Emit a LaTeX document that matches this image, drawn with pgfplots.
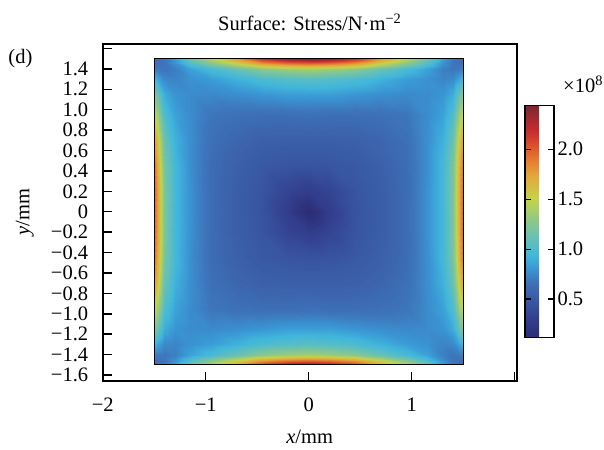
\documentclass[border=0pt]{standalone}
\usepackage{fontspec}
\setmainfont{Liberation Serif}
\usepackage{pgfplots}
\pgfplotsset{compat=1.18}

% stress colour scale, evenly spaced from 0.113e8 to 2.436e8 N/m^2
\pgfplotsset{
  colormap={stress}{
    rgb255(0cm)=(44,44,115) rgb255(1cm)=(48,55,132) rgb255(2cm)=(52,68,147)
    rgb255(3cm)=(56,85,161) rgb255(4cm)=(60,100,173) rgb255(5cm)=(61,120,188)
    rgb255(6cm)=(58,151,212) rgb255(7cm)=(64,182,220) rgb255(8cm)=(88,189,196)
    rgb255(9cm)=(112,194,170) rgb255(10cm)=(139,199,138) rgb255(11cm)=(168,206,104)
    rgb255(12cm)=(197,211,72) rgb255(13cm)=(213,188,65) rgb255(14cm)=(229,166,59)
    rgb255(15cm)=(228,134,52) rgb255(16cm)=(226,99,44) rgb255(17cm)=(213,67,45)
    rgb255(18cm)=(195,42,47) rgb255(19cm)=(158,41,50) rgb255(20cm)=(122,40,52)
  }
}

\begin{document}
\begin{tikzpicture}[font=\fontsize{20.5}{24}\selectfont]
\begin{axis}[
  name=main,
  scale only axis, width=414pt, height=336.7pt,
  xmin=-2, xmax=2.02, ymin=-1.656, ymax=1.644,
  clip=false,
  colormap name=stress, point meta min=0.113, point meta max=2.436,
  axis line style={line width=2pt},
  tick style={black, line width=1.5pt}, major tick length=9pt,
  tick align=inside, tick pos=left,
  xtick={-2,-1,0,1,2}, xticklabels={−2,−1,0,1,{}},
  ytick={-1.6,-1.4,-1.2,-1.0,-0.8,-0.6,-0.4,-0.2,0,0.2,0.4,0.6,0.8,1.0,1.2,1.4,1.6},
  yticklabels={−1.6,−1.4,−1.2,−1.0,−0.8,−0.6,−0.4,−0.2,0,0.2,0.4,0.6,0.8,1.0,1.2,1.4,{}},
  xticklabel style={anchor=base, yshift=-31pt},
  yticklabel style={anchor=east, xshift=-11pt},
  every axis x label/.style={at={(axis description cs:0.5,0)}, anchor=base, yshift=-63pt},
  every axis y label/.style={at={(axis description cs:-0.188,0.5)}, rotate=90, anchor=center},
  every axis title/.style={at={(0.5,1)}, anchor=base, yshift=13pt},
  xlabel={\textit{x}/mm}, ylabel={\textit{y}/mm},
  title={Surface: Stress/N·m\textsuperscript{−2}},
  colorbar,
  colorbar style={
    at={(1.02,0.1277)}, anchor=south west,
    scale only axis, width=29pt, height=232pt,
    ytick={0.5,1,1.5,2}, yticklabels={0.5,1.0,1.5,2.0},
    ytick pos=both, yticklabel pos=right,
    tick align=inside, major tick length=6pt,
    tick style={black, line width=1.2pt},
    axis line style={line width=1.3pt},
    after end axis/.code={\draw[line width=1.3pt] (rel axis cs:0,0) rectangle (rel axis cs:1,1);},
  },
]
\addplot[surf, shader=interp, mesh/cols=19, point meta=\thisrow{z}] table[row sep=\\] {
x y z\\
-1.5 -1.5 0.63\\ -1.46 -1.5 0.64\\ -1.4 -1.5 0.68\\ -1.3 -1.5 0.83\\ -1.15 -1.5 1.14\\ -0.95 -1.5 1.43\\ -0.7 -1.5 1.78\\ -0.45 -1.5 2.16\\ -0.2 -1.5 2.36\\ 0 -1.5 2.436\\ 0.2 -1.5 2.36\\ 0.45 -1.5 2.16\\ 0.7 -1.5 1.78\\ 0.95 -1.5 1.43\\ 1.15 -1.5 1.14\\ 1.3 -1.5 0.83\\ 1.4 -1.5 0.68\\ 1.46 -1.5 0.64\\ 1.5 -1.5 0.63\\
-1.5 -1.46 0.65\\ -1.46 -1.46 0.66\\ -1.4 -1.46 0.68\\ -1.3 -1.46 0.79\\ -1.15 -1.46 1.03\\ -0.95 -1.46 1.27\\ -0.7 -1.46 1.54\\ -0.45 -1.46 1.82\\ -0.2 -1.46 1.96\\ 0 -1.46 2.00\\ 0.2 -1.46 1.96\\ 0.45 -1.46 1.82\\ 0.7 -1.46 1.54\\ 0.95 -1.46 1.27\\ 1.15 -1.46 1.03\\ 1.3 -1.46 0.79\\ 1.4 -1.46 0.68\\ 1.46 -1.46 0.66\\ 1.5 -1.46 0.65\\
-1.5 -1.4 0.72\\ -1.46 -1.4 0.70\\ -1.4 -1.4 0.68\\ -1.3 -1.4 0.72\\ -1.15 -1.4 0.85\\ -0.95 -1.4 0.97\\ -0.7 -1.4 1.12\\ -0.45 -1.4 1.28\\ -0.2 -1.4 1.35\\ 0 -1.4 1.38\\ 0.2 -1.4 1.35\\ 0.45 -1.4 1.28\\ 0.7 -1.4 1.12\\ 0.95 -1.4 0.97\\ 1.15 -1.4 0.85\\ 1.3 -1.4 0.72\\ 1.4 -1.4 0.68\\ 1.46 -1.4 0.70\\ 1.5 -1.4 0.72\\
-1.5 -1.3 0.93\\ -1.46 -1.3 0.86\\ -1.4 -1.3 0.76\\ -1.3 -1.3 0.74\\ -1.15 -1.3 0.79\\ -0.95 -1.3 0.83\\ -0.7 -1.3 0.91\\ -0.45 -1.3 0.99\\ -0.2 -1.3 1.03\\ 0 -1.3 1.05\\ 0.2 -1.3 1.03\\ 0.45 -1.3 0.99\\ 0.7 -1.3 0.91\\ 0.95 -1.3 0.83\\ 1.15 -1.3 0.79\\ 1.3 -1.3 0.74\\ 1.4 -1.3 0.76\\ 1.46 -1.3 0.86\\ 1.5 -1.3 0.93\\
-1.5 -1.15 1.24\\ -1.46 -1.15 1.11\\ -1.4 -1.15 0.89\\ -1.3 -1.15 0.80\\ -1.15 -1.15 0.77\\ -0.95 -1.15 0.76\\ -0.7 -1.15 0.78\\ -0.45 -1.15 0.81\\ -0.2 -1.15 0.84\\ 0 -1.15 0.84\\ 0.2 -1.15 0.84\\ 0.45 -1.15 0.81\\ 0.7 -1.15 0.78\\ 0.95 -1.15 0.76\\ 1.15 -1.15 0.77\\ 1.3 -1.15 0.80\\ 1.4 -1.15 0.89\\ 1.46 -1.15 1.11\\ 1.5 -1.15 1.24\\
-1.5 -0.95 1.53\\ -1.46 -0.95 1.34\\ -1.4 -0.95 1.01\\ -1.3 -0.95 0.85\\ -1.15 -0.95 0.77\\ -0.95 -0.95 0.68\\ -0.7 -0.95 0.65\\ -0.45 -0.95 0.64\\ -0.2 -0.95 0.64\\ 0 -0.95 0.65\\ 0.2 -0.95 0.64\\ 0.45 -0.95 0.64\\ 0.7 -0.95 0.65\\ 0.95 -0.95 0.68\\ 1.15 -0.95 0.77\\ 1.3 -0.95 0.85\\ 1.4 -0.95 1.01\\ 1.46 -0.95 1.34\\ 1.5 -0.95 1.53\\
-1.5 -0.7 1.80\\ -1.46 -0.7 1.56\\ -1.4 -0.7 1.13\\ -1.3 -0.7 0.91\\ -1.15 -0.7 0.78\\ -0.95 -0.7 0.65\\ -0.7 -0.7 0.59\\ -0.45 -0.7 0.55\\ -0.2 -0.7 0.54\\ 0 -0.7 0.54\\ 0.2 -0.7 0.54\\ 0.45 -0.7 0.55\\ 0.7 -0.7 0.59\\ 0.95 -0.7 0.65\\ 1.15 -0.7 0.78\\ 1.3 -0.7 0.91\\ 1.4 -0.7 1.13\\ 1.46 -0.7 1.56\\ 1.5 -0.7 1.80\\
-1.5 -0.45 1.96\\ -1.46 -0.45 1.68\\ -1.4 -0.45 1.20\\ -1.3 -0.45 0.95\\ -1.15 -0.45 0.78\\ -0.95 -0.45 0.63\\ -0.7 -0.45 0.55\\ -0.45 -0.45 0.49\\ -0.2 -0.45 0.46\\ 0 -0.45 0.45\\ 0.2 -0.45 0.46\\ 0.45 -0.45 0.49\\ 0.7 -0.45 0.55\\ 0.95 -0.45 0.63\\ 1.15 -0.45 0.78\\ 1.3 -0.45 0.95\\ 1.4 -0.45 1.20\\ 1.46 -0.45 1.68\\ 1.5 -0.45 1.96\\
-1.5 -0.2 2.00\\ -1.46 -0.2 1.72\\ -1.4 -0.2 1.22\\ -1.3 -0.2 0.95\\ -1.15 -0.2 0.79\\ -0.95 -0.2 0.63\\ -0.7 -0.2 0.53\\ -0.45 -0.2 0.46\\ -0.2 -0.2 0.34\\ 0 -0.2 0.28\\ 0.2 -0.2 0.34\\ 0.45 -0.2 0.46\\ 0.7 -0.2 0.53\\ 0.95 -0.2 0.63\\ 1.15 -0.2 0.79\\ 1.3 -0.2 0.95\\ 1.4 -0.2 1.22\\ 1.46 -0.2 1.72\\ 1.5 -0.2 2.00\\
-1.5 0 2.00\\ -1.46 0 1.72\\ -1.4 0 1.22\\ -1.3 0 0.95\\ -1.15 0 0.79\\ -0.95 0 0.63\\ -0.7 0 0.53\\ -0.45 0 0.45\\ -0.2 0 0.28\\ 0 0 0.113\\ 0.2 0 0.28\\ 0.45 0 0.45\\ 0.7 0 0.53\\ 0.95 0 0.63\\ 1.15 0 0.79\\ 1.3 0 0.95\\ 1.4 0 1.22\\ 1.46 0 1.72\\ 1.5 0 2.00\\
-1.5 0.2 2.00\\ -1.46 0.2 1.72\\ -1.4 0.2 1.22\\ -1.3 0.2 0.95\\ -1.15 0.2 0.79\\ -0.95 0.2 0.63\\ -0.7 0.2 0.53\\ -0.45 0.2 0.46\\ -0.2 0.2 0.34\\ 0 0.2 0.28\\ 0.2 0.2 0.34\\ 0.45 0.2 0.46\\ 0.7 0.2 0.53\\ 0.95 0.2 0.63\\ 1.15 0.2 0.79\\ 1.3 0.2 0.95\\ 1.4 0.2 1.22\\ 1.46 0.2 1.72\\ 1.5 0.2 2.00\\
-1.5 0.45 1.96\\ -1.46 0.45 1.68\\ -1.4 0.45 1.20\\ -1.3 0.45 0.95\\ -1.15 0.45 0.78\\ -0.95 0.45 0.63\\ -0.7 0.45 0.55\\ -0.45 0.45 0.49\\ -0.2 0.45 0.46\\ 0 0.45 0.45\\ 0.2 0.45 0.46\\ 0.45 0.45 0.49\\ 0.7 0.45 0.55\\ 0.95 0.45 0.63\\ 1.15 0.45 0.78\\ 1.3 0.45 0.95\\ 1.4 0.45 1.20\\ 1.46 0.45 1.68\\ 1.5 0.45 1.96\\
-1.5 0.7 1.80\\ -1.46 0.7 1.56\\ -1.4 0.7 1.13\\ -1.3 0.7 0.91\\ -1.15 0.7 0.78\\ -0.95 0.7 0.65\\ -0.7 0.7 0.59\\ -0.45 0.7 0.55\\ -0.2 0.7 0.54\\ 0 0.7 0.54\\ 0.2 0.7 0.54\\ 0.45 0.7 0.55\\ 0.7 0.7 0.59\\ 0.95 0.7 0.65\\ 1.15 0.7 0.78\\ 1.3 0.7 0.91\\ 1.4 0.7 1.13\\ 1.46 0.7 1.56\\ 1.5 0.7 1.80\\
-1.5 0.95 1.53\\ -1.46 0.95 1.34\\ -1.4 0.95 1.01\\ -1.3 0.95 0.85\\ -1.15 0.95 0.77\\ -0.95 0.95 0.68\\ -0.7 0.95 0.65\\ -0.45 0.95 0.64\\ -0.2 0.95 0.64\\ 0 0.95 0.65\\ 0.2 0.95 0.64\\ 0.45 0.95 0.64\\ 0.7 0.95 0.65\\ 0.95 0.95 0.68\\ 1.15 0.95 0.77\\ 1.3 0.95 0.85\\ 1.4 0.95 1.01\\ 1.46 0.95 1.34\\ 1.5 0.95 1.53\\
-1.5 1.15 1.24\\ -1.46 1.15 1.11\\ -1.4 1.15 0.89\\ -1.3 1.15 0.80\\ -1.15 1.15 0.77\\ -0.95 1.15 0.76\\ -0.7 1.15 0.78\\ -0.45 1.15 0.81\\ -0.2 1.15 0.84\\ 0 1.15 0.84\\ 0.2 1.15 0.84\\ 0.45 1.15 0.81\\ 0.7 1.15 0.78\\ 0.95 1.15 0.76\\ 1.15 1.15 0.77\\ 1.3 1.15 0.80\\ 1.4 1.15 0.89\\ 1.46 1.15 1.11\\ 1.5 1.15 1.24\\
-1.5 1.3 0.93\\ -1.46 1.3 0.86\\ -1.4 1.3 0.76\\ -1.3 1.3 0.74\\ -1.15 1.3 0.79\\ -0.95 1.3 0.83\\ -0.7 1.3 0.91\\ -0.45 1.3 0.99\\ -0.2 1.3 1.03\\ 0 1.3 1.05\\ 0.2 1.3 1.03\\ 0.45 1.3 0.99\\ 0.7 1.3 0.91\\ 0.95 1.3 0.83\\ 1.15 1.3 0.79\\ 1.3 1.3 0.74\\ 1.4 1.3 0.76\\ 1.46 1.3 0.86\\ 1.5 1.3 0.93\\
-1.5 1.4 0.72\\ -1.46 1.4 0.70\\ -1.4 1.4 0.68\\ -1.3 1.4 0.72\\ -1.15 1.4 0.85\\ -0.95 1.4 0.97\\ -0.7 1.4 1.12\\ -0.45 1.4 1.28\\ -0.2 1.4 1.35\\ 0 1.4 1.38\\ 0.2 1.4 1.35\\ 0.45 1.4 1.28\\ 0.7 1.4 1.12\\ 0.95 1.4 0.97\\ 1.15 1.4 0.85\\ 1.3 1.4 0.72\\ 1.4 1.4 0.68\\ 1.46 1.4 0.70\\ 1.5 1.4 0.72\\
-1.5 1.46 0.65\\ -1.46 1.46 0.66\\ -1.4 1.46 0.68\\ -1.3 1.46 0.79\\ -1.15 1.46 1.03\\ -0.95 1.46 1.27\\ -0.7 1.46 1.54\\ -0.45 1.46 1.82\\ -0.2 1.46 1.96\\ 0 1.46 2.00\\ 0.2 1.46 1.96\\ 0.45 1.46 1.82\\ 0.7 1.46 1.54\\ 0.95 1.46 1.27\\ 1.15 1.46 1.03\\ 1.3 1.46 0.79\\ 1.4 1.46 0.68\\ 1.46 1.46 0.66\\ 1.5 1.46 0.65\\
-1.5 1.5 0.63\\ -1.46 1.5 0.64\\ -1.4 1.5 0.68\\ -1.3 1.5 0.83\\ -1.15 1.5 1.14\\ -0.95 1.5 1.43\\ -0.7 1.5 1.78\\ -0.45 1.5 2.16\\ -0.2 1.5 2.36\\ 0 1.5 2.436\\ 0.2 1.5 2.36\\ 0.45 1.5 2.16\\ 0.7 1.5 1.78\\ 0.95 1.5 1.43\\ 1.15 1.5 1.14\\ 1.3 1.5 0.83\\ 1.4 1.5 0.68\\ 1.46 1.5 0.64\\ 1.5 1.5 0.63\\
};
% outline of the square domain
\addplot[draw=black, line width=1.3pt, mark=none] coordinates {(-1.5,-1.5) (1.5,-1.5) (1.5,1.5) (-1.5,1.5) (-1.5,-1.5)};
% full frame of the axis box
\draw[line width=2pt] (rel axis cs:0,0) rectangle (rel axis cs:1,1);
\end{axis}
\node[anchor=base west, inner sep=0pt] at ([shift={(-94.4pt,-20pt)}]main.north west) {(d)};
\node[anchor=base west, inner sep=0pt] at ([shift={(460.3pt,-49pt)}]main.north west) {×10\textsuperscript{8}};
\path ([shift={(-102.7pt,-68.3pt)}]main.south west) rectangle ++(604pt,449pt);
\end{tikzpicture}
\end{document}
